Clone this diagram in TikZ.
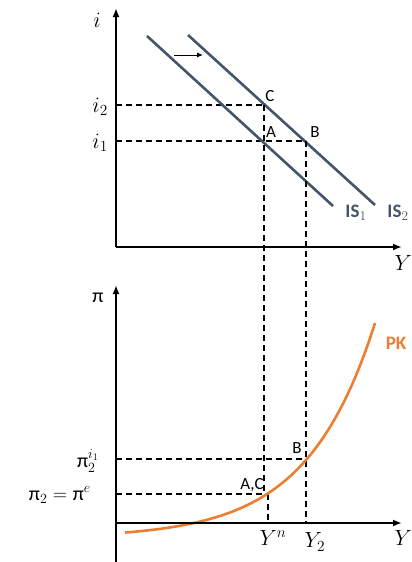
\documentclass[tikz,border=0pt]{standalone}
\usepackage{fix-cm}
\usepackage{amsmath}
\usepackage{fontspec}
\newfontfamily\carlito{Carlito}
\usetikzlibrary{arrows.meta}
\definecolor{isblue}{HTML}{44546A}
\definecolor{pkorange}{HTML}{ED7D31}
\newcommand\mypi{\text{\carlito π}}
\tikzset{
  axis/.style={line width=1.8pt,-{Latex[length=9pt,width=7pt]}},
  guide/.style={line width=1.1pt,dash pattern=on 6pt off 4pt},
  isline/.style={line width=2.6pt,isblue},
  pkline/.style={line width=2.6pt,pkorange},
  ptlabel/.style={font=\carlito\fontsize{17}{19}\selectfont,inner sep=0pt},
  mathlabel/.style={font=\fontsize{22}{25}\selectfont,inner sep=0pt},
  pilabel/.style={font=\fontsize{20}{22}\selectfont,inner sep=0pt},
  curvelabel/.style={font=\carlito\bfseries\fontsize{19}{21}\selectfont,inner sep=0pt},
}
\begin{document}
\begin{tikzpicture}[x=1pt,y=-1pt]
\useasboundingbox (0,0) rectangle (412,562);
% ---------- top panel ----------
\coordinate (O1) at (116,247);
\coordinate (itop) at (116,8);
\coordinate (yend1) at (402,247);
\coordinate (IS1a) at (147,36);
\coordinate (IS1b) at (333,206);
\coordinate (IS2a) at (188,35);
\coordinate (IS2b) at (375,205);
\coordinate (C) at (264,105);
\coordinate (A) at (264,141);
\coordinate (B) at (306,141);
\coordinate (i2ax) at (116,105);
\coordinate (i1ax) at (116,141);
\coordinate (sh1) at (174,55);
\coordinate (sh2) at (203,55);
% guides top
\draw[guide] (i2ax) -- (C);
\draw[guide] (i1ax) -- (B);
% IS lines
\draw[isline] (IS1a) -- (IS1b);
\draw[isline] (IS2a) -- (IS2b);
\draw[line width=1pt,-{Latex[length=6pt,width=5pt]}] (sh1) -- (sh2);
% axes top
\draw[axis] (O1) -- (itop);
\draw[axis] (O1) -- (yend1);
% labels top
\node[mathlabel] (li) at (97,20) {$i$};
\node[mathlabel,anchor=east] (li2) at (108,107) {$i_2$};
\node[mathlabel,anchor=east] (li1) at (108,143) {$i_1$};
\node[ptlabel] (lC) at (270,96) {C};
\node[ptlabel] (lA) at (271,132) {A};
\node[ptlabel] (lB) at (315,132) {B};
\node[curvelabel,text=isblue] (lIS1) at (356,213) {IS$_1$};
\node[curvelabel,text=isblue] (lIS2) at (398,213) {IS$_2$};
\node[mathlabel,anchor=east] (lY1) at (412,263) {$Y$};
% ---------- bottom panel ----------
\coordinate (O2) at (116,523);
\coordinate (ptop) at (116,285);
\coordinate (pbot) at (116,562);
\coordinate (yend2) at (402,523);
\coordinate (AC) at (268,494);
\coordinate (ACup) at (264,494);
\coordinate (Bp) at (306,459);
\coordinate (p1ax) at (116,459);
\coordinate (p2ax) at (116,494);
\coordinate (Ynax) at (268,523);
\coordinate (Y2ax) at (306,523);
% guides
\draw[guide] (C) -- (ACup);
\draw[guide] (B) -- (Y2ax);
\draw[guide] (p1ax) -- (Bp);
\draw[guide] (p2ax) -- (AC);
\draw[guide] (AC) -- (Ynax);
% PK curve
\draw[pkline] plot[domain=125:375,samples=120] (\x,{538-78*exp(0.0147*(\x-306))});
% axes bottom
\draw[line width=1.8pt] (O2) -- (pbot);
\draw[axis] (O2) -- (ptop);
\draw[axis] (O2) -- (yend2);
% labels bottom
\node[font=\carlito\fontsize{20}{22}\selectfont,inner sep=0pt] (lpi) at (98,298) {π};
\node[pilabel,anchor=east] (lp1) at (99,461) {$\mypi_2^{i_1}$};
\node[pilabel,anchor=east] (lp2) at (91,495) {$\mypi_2=\mypi^e$};
\node[ptlabel] (lB2) at (297,448) {B};
\node[ptlabel] (lAC) at (252,485) {A,C};
\node[curvelabel,text=pkorange] (lPK) at (396,343) {PK};
\node[mathlabel] (lYn) at (273,538) {$Y^n$};
\node[mathlabel] (lY2) at (315,542) {$Y_2$};
\node[mathlabel,anchor=east] (lY) at (412,538) {$Y$};
\end{tikzpicture}
\end{document}
